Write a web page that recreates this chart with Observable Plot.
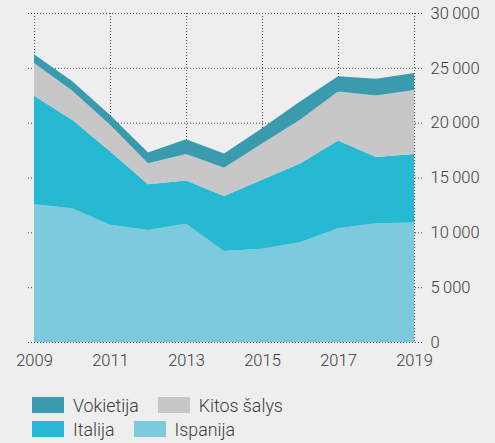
<!DOCTYPE html>
<html>
<head>
<meta charset="utf-8">
<script src="https://cdn.jsdelivr.net/npm/d3@7"></script>
<script src="https://cdn.jsdelivr.net/npm/@observablehq/plot@0.6"></script>
<style>
  html, body { margin: 0; padding: 0; background: #eeeeee; }
  body { width: 495px; height: 443px; overflow: hidden; font-family: Roboto, "Open Sans", sans-serif; font-weight: 300; }
  #legend { position: absolute; left: 32px; top: 393px; width: 460px; color: #3c3c3c; font-size: 17.8px; }
  .row { display: flex; align-items: center; height: 24px; }
  .item { display: flex; align-items: center; margin-right: 19px; }
  .sw { width: 32px; height: 16px; margin-right: 9px; }
  svg text { font-weight: 300; }
</style>
</head>
<body>
<div id="chart"></div>
<div id="legend"></div>
<script>
const years = [2009, 2010, 2011, 2012, 2013, 2014, 2015, 2016, 2017, 2018, 2019];
const ispanija  = [12560, 12200, 10700, 10220, 10790, 8300, 8500, 9090, 10370, 10830, 10890];
const italija   = [9890, 8060, 6700, 4170, 3930, 5020, 6300, 7180, 8000, 6050, 6260];
const kitos     = [2980, 2670, 2400, 1910, 2430, 2580, 3300, 3990, 4470, 5590, 5840];
const vokietija = [820, 880, 900, 970, 1340, 1280, 1400, 1670, 1400, 1530, 1550];
const seriesNames = ["Ispanija", "Italija", "Kitos šalys", "Vokietija"];
const seriesColors = ["#7dcadf", "#27b8d2", "#c7c7c7", "#3a9aae"];
const xTicks = [2009, 2011, 2013, 2015, 2017, 2019];
const yTicks = [0, 5000, 10000, 15000, 20000, 25000, 30000];

const seriesValues = [ispanija, italija, kitos, vokietija];
const data = [];
seriesNames.forEach((name, i) => {
  years.forEach((y, j) => data.push({year: y, series: name, value: seriesValues[i][j]}));
});

const fmt = d3.formatLocale({thousands: "\u2009", grouping: [3], decimal: ","}).format(",");
const gridStyle = {stroke: "#444", strokeWidth: 1, strokeDasharray: "1,2"};

const chart = Plot.plot({
  width: 495,
  height: 372,
  marginLeft: 34,
  marginRight: 81,
  marginTop: 13,
  marginBottom: 30,
  style: {background: "transparent", fontFamily: "Roboto, 'Open Sans', sans-serif", fontSize: "16px", color: "#3c3c3c"},
  x: {domain: [2009, 2019], label: null},
  y: {domain: [0, 30000], label: null},
  color: {domain: seriesNames, range: seriesColors},
  marks: [
    Plot.ruleY(yTicks, {...gridStyle, insetLeft: -6, insetRight: -8}),
    Plot.ruleX(xTicks, {...gridStyle}),
    Plot.areaY(data, {x: "year", y: "value", z: "series", fill: "series", order: seriesNames}),
    Plot.axisY(yTicks, {anchor: "right", label: null, tickSize: 0, tickPadding: 16, tickFormat: fmt, fontSize: 16.5, fill: "#3c3c3c"}),
    Plot.axisX(xTicks, {anchor: "bottom", label: null, tickSize: 0, tickPadding: 12, tickFormat: d => String(d), fontSize: 16.5, fill: "#3c3c3c"})
  ]
});
document.getElementById("chart").appendChild(chart);

const legendRows = [["Vokietija", "Kitos šalys"], ["Italija", "Ispanija"]];
const legend = document.getElementById("legend");
legendRows.forEach(r => {
  const row = document.createElement("div");
  row.className = "row";
  r.forEach(name => {
    const item = document.createElement("div");
    item.className = "item";
    const sw = document.createElement("div");
    sw.className = "sw";
    sw.style.background = seriesColors[seriesNames.indexOf(name)];
    const t = document.createElement("span");
    t.textContent = name;
    item.appendChild(sw);
    item.appendChild(t);
    row.appendChild(item);
  });
  legend.appendChild(row);
});
</script>
</body>
</html>
